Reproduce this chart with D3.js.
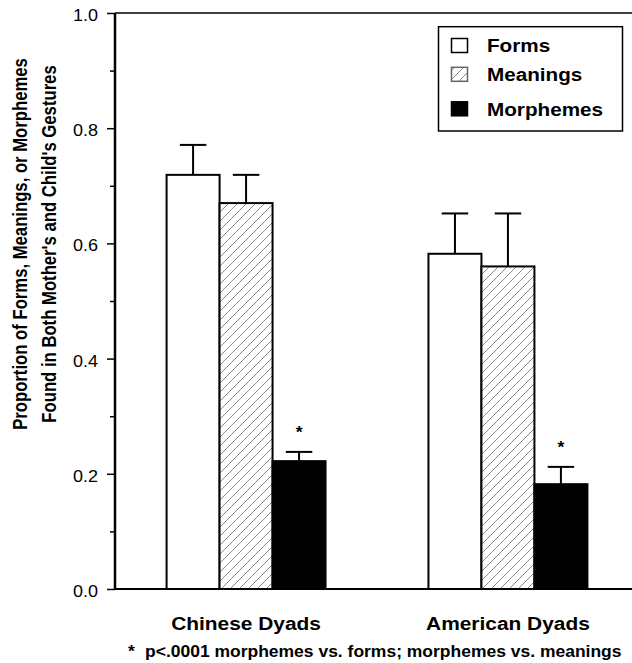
<!DOCTYPE html>
<html>
<head>
<meta charset="utf-8">
<script src="https://cdn.jsdelivr.net/npm/d3@7"></script>
<style>
  body { margin: 0; background: #fff; }
  text { font-family: "Liberation Sans", Arial, Helvetica, sans-serif; }
</style>
</head>
<body>
<svg id="chart" width="632" height="663"></svg>
<script>
// ---- data ----
const categories = ["Chinese Dyads", "American Dyads"];
const seriesNames = ["Forms", "Meanings", "Morphemes"];
const forms = [0.719, 0.582];
const meanings = [0.670, 0.560];
const morphemes = [0.222, 0.182];
const formsErr = [0.052, 0.070];
const meaningsErr = [0.049, 0.092];
const morphemesErr = [0.016, 0.030];
const significant = [false, false, true];
const yTicks = [0.0, 0.2, 0.4, 0.6, 0.8, 1.0];
const yMinorTicks = [0.1, 0.3, 0.5, 0.7, 0.9];
const yLabelLines = ["Proportion of Forms, Meanings, or Morphemes", "Found in Both Mother's and Child's Gestures"];
const footnote = "p<.0001 morphemes vs. forms; morphemes vs. meanings";

const values = [forms, meanings, morphemes];
const errors = [formsErr, meaningsErr, morphemesErr];

// ---- layout ----
const svg = d3.select("#chart");
const mLeft = 115, mTop = 13, mBottom = 589, mRight = 632;
const sx = 1.1; // horizontal text stretch of the original

const y = d3.scaleLinear().domain([0, 1]).range([mBottom, mTop]);
const x0 = d3.scaleBand().domain(categories).range([mLeft, 639]).paddingInner(0.393).paddingOuter(0.197);
const x1 = d3.scaleBand().domain(seriesNames).range([0, x0.bandwidth()]).padding(0);

// hatch pattern
const defs = svg.append("defs");
const pat = defs.append("pattern").attr("id", "hatch").attr("patternUnits", "userSpaceOnUse")
  .attr("width", 9).attr("height", 9);
pat.append("rect").attr("width", 9).attr("height", 9).attr("fill", "#fff");
pat.append("path").attr("d", "M-2,2 L2,-2 M0,9 L9,0 M7,11 L11,7")
  .attr("stroke", "#8a8a8a").attr("stroke-width", 1);

const fills = { Forms: "#fff", Meanings: "url(#hatch)", Morphemes: "#000" };

// bars
const rows = [];
categories.forEach((c, ci) => seriesNames.forEach((s, si) => {
  rows.push({ cat: c, ser: s, v: values[si][ci], e: errors[si][ci], sig: significant[si] });
}));

const g = svg.append("g");
// error bars (upper only)
g.selectAll("g.err").data(rows).join("g").attr("class", "err").each(function(d) {
  const cx = x0(d.cat) + x1(d.ser) + x1.bandwidth() / 2;
  const cw = x1.bandwidth() / 2;
  const sel = d3.select(this);
  sel.append("line").attr("x1", cx).attr("x2", cx).attr("y1", y(d.v)).attr("y2", y(d.v + d.e))
    .attr("stroke", "#000").attr("stroke-width", 2);
  sel.append("line").attr("x1", cx - cw / 2).attr("x2", cx + cw / 2).attr("y1", y(d.v + d.e)).attr("y2", y(d.v + d.e))
    .attr("stroke", "#000").attr("stroke-width", 2);
  if (d.sig) {
    sel.append("text").attr("transform", `translate(${cx},${y(d.v + d.e) - 14}) scale(${sx},1)`)
      .attr("text-anchor", "middle").attr("font-size", 16).attr("font-weight", "bold").text("*");
  }
});

g.selectAll("rect.bar").data(rows).join("rect").attr("class", "bar")
  .attr("x", d => x0(d.cat) + x1(d.ser))
  .attr("width", x1.bandwidth())
  .attr("y", d => y(d.v))
  .attr("height", d => mBottom - y(d.v))
  .attr("fill", d => fills[d.ser])
  .attr("stroke", "#000").attr("stroke-width", 2);

// axes
svg.append("line").attr("x1", mLeft).attr("x2", mRight).attr("y1", mTop).attr("y2", mTop)
  .attr("stroke", "#000").attr("stroke-width", 1.5);
svg.append("line").attr("x1", mLeft).attr("x2", mRight).attr("y1", mBottom).attr("y2", mBottom)
  .attr("stroke", "#000").attr("stroke-width", 2.2);

const yAxis = svg.append("g").attr("transform", `translate(${mLeft},0)`)
  .call(d3.axisLeft(y).tickValues(yTicks).tickSize(8).tickFormat(d3.format(".1f")));
yAxis.select(".domain").attr("stroke-width", 2.5).attr("d", `M0,${mTop}V${mBottom}`);
yAxis.selectAll(".tick line").attr("stroke-width", 1.5);
yAxis.selectAll(".tick text").attr("font-size", 16.4).attr("font-family", "Liberation Sans, Arial, sans-serif")
  .attr("x", null).attr("dy", null)
  .attr("transform", `translate(-17,7.4) scale(${sx},1)`);
const yMinor = svg.append("g").attr("transform", `translate(${mLeft},0)`)
  .call(d3.axisLeft(y).tickValues(yMinorTicks).tickSize(5).tickFormat(""));
yMinor.select(".domain").remove();
yMinor.selectAll(".tick line").attr("stroke-width", 1.5);

// x labels
svg.append("g").selectAll("text").data(categories).join("text")
  .attr("transform", d => `translate(${x0(d) + x0.bandwidth() / 2},629.5) scale(${sx},1)`)
  .attr("text-anchor", "middle").attr("font-size", 19).attr("font-weight", "bold").text(d => d);

// y label
const yl = svg.append("g");
yl.selectAll("text").data(yLabelLines).join("text")
  .attr("transform", (d, i) => `translate(${27 + i * 29},244) rotate(-90) scale(1,1.17)`)
  .attr("text-anchor", "middle").attr("font-size", 16.7).attr("font-weight", "bold").text(d => d);

// footnote
svg.append("text").attr("transform", `translate(128,657) scale(${sx},1)`)
  .attr("font-size", 15.9).attr("font-weight", "bold").text("*");
svg.append("text").attr("transform", `translate(145,657) scale(${sx},1)`)
  .attr("font-size", 15.9).attr("font-weight", "bold").text(footnote);

// legend
const lg = svg.append("g");
lg.append("rect").attr("x", 438.5).attr("y", 26.7).attr("width", 184).attr("height", 104.3)
  .attr("fill", "#fff").attr("stroke", "#000").attr("stroke-width", 1.5);
const legendY = [45.5, 74.3, 108.8];
const legendStroke = { Forms: "#000", Meanings: "#666", Morphemes: "#000" };
seriesNames.forEach((s, i) => {
  lg.append("rect").attr("x", 451.5).attr("y", legendY[i] - 7).attr("width", 16).attr("height", 14)
    .attr("fill", fills[s]).attr("stroke", legendStroke[s]).attr("stroke-width", 1.5);
  lg.append("text").attr("transform", `translate(487,${legendY[i] + 6.7}) scale(${sx},1)`)
    .attr("font-size", 18.8).attr("font-weight", "bold").text(s);
});
</script>
</body>
</html>
